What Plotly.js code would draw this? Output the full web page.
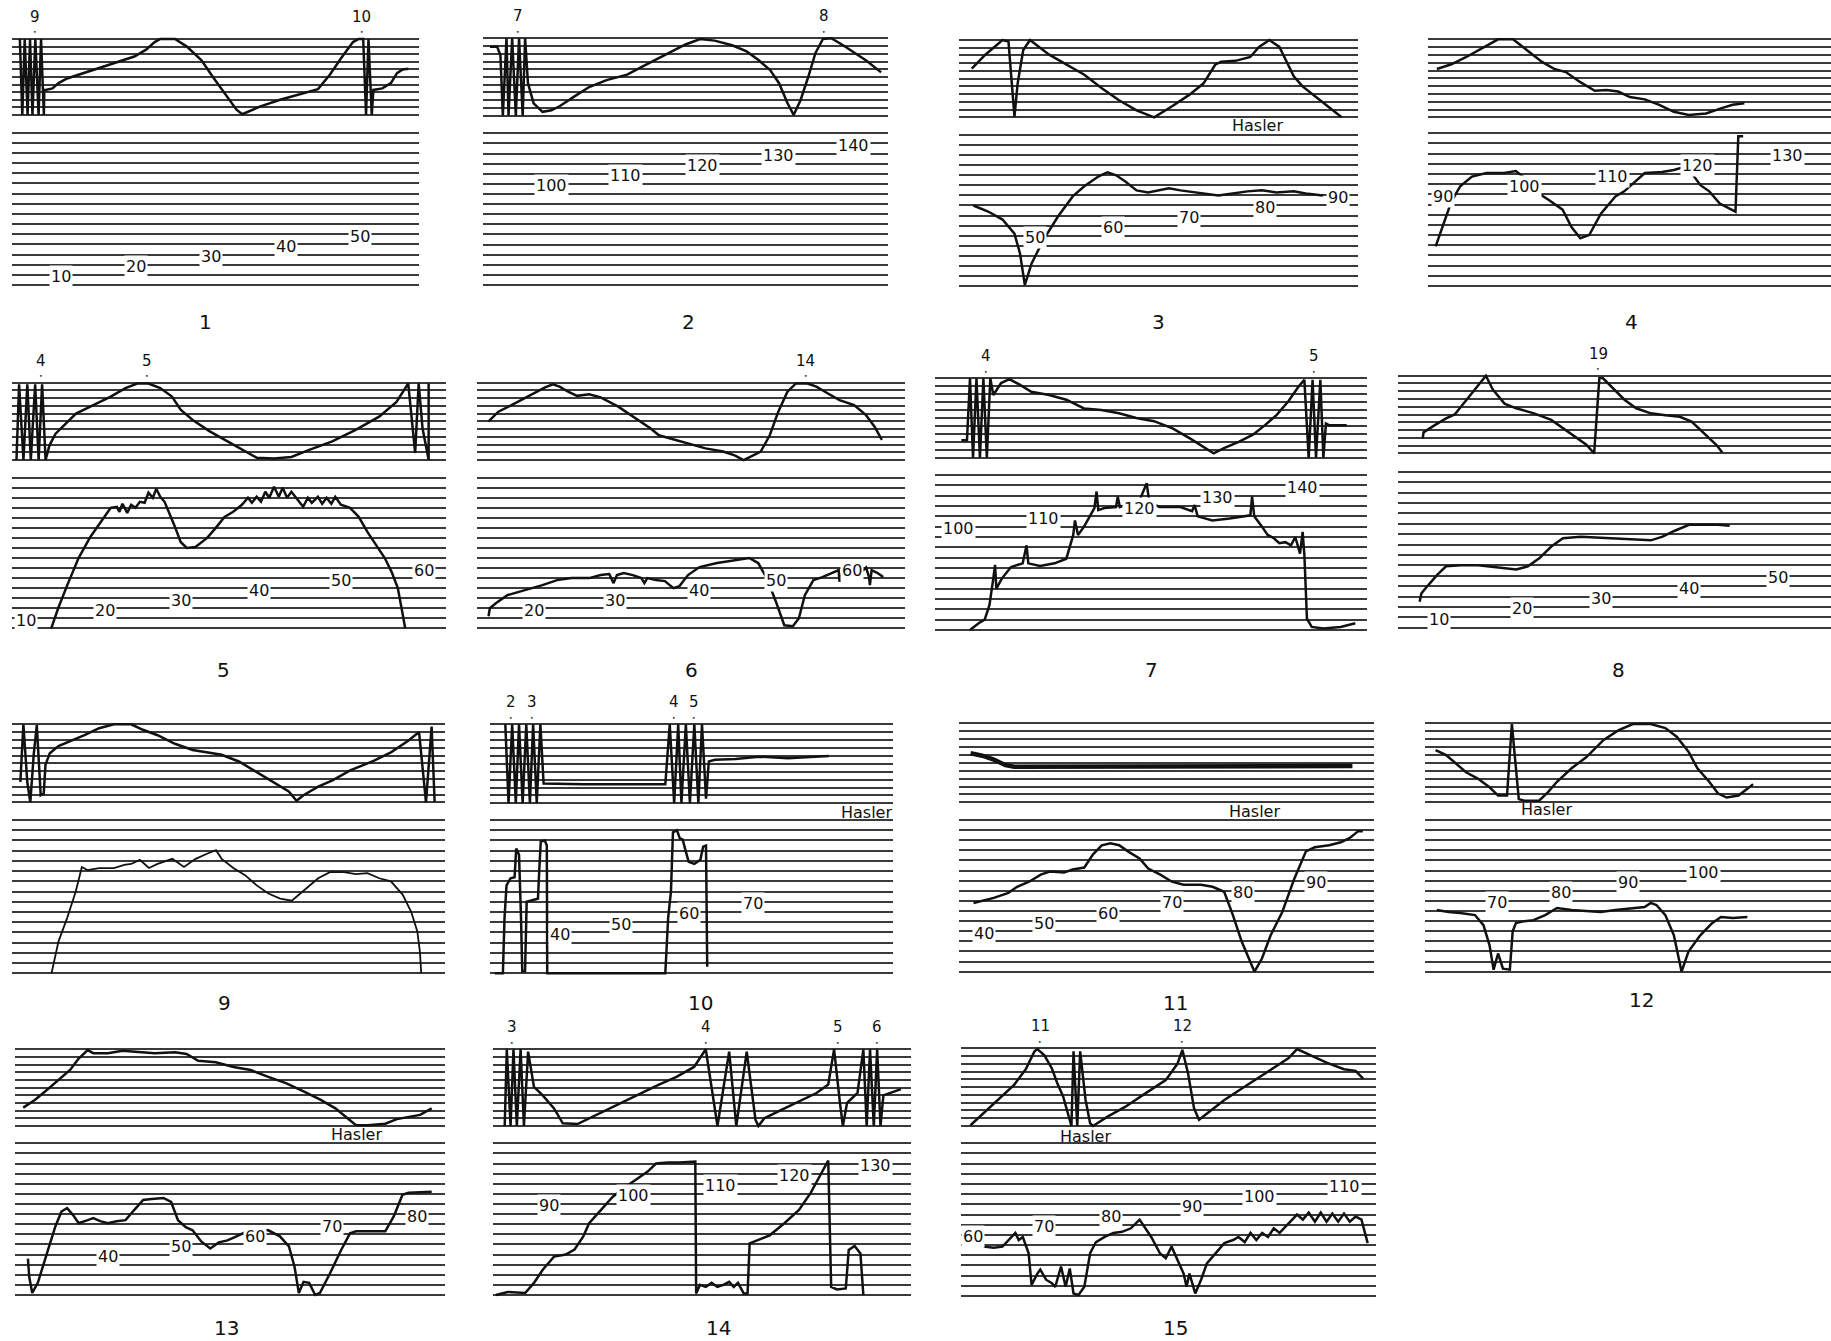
<!DOCTYPE html>
<html>
<head>
<meta charset="utf-8">
<script src="https://cdn.plot.ly/plotly-3.0.1.min.js"></script>
<style>html,body{margin:0;padding:0;background:#fff;}</style>
</head>
<body>
<div id="chart" style="width:1831px;height:1341px;"></div>
<script>
// ===== DATA: x = position along strip (0-100), y = line number (upper 0-10, lower 0-15) =====
const up1X = [2.0,2.6,3.2,3.9,4.5,5.1,5.8,6.6,7.2,7.9,8.0,8.3,10,11.5,13.6,18.6,25.8,30.1,33,35.1,36.5,40.1,43,46.6,49.4,52.3,55.2,56.6,58,60.9,65.9,71.6,75.2,78.1,80.9,83.8,85.2,86.3,87.0,87.6,88.4,88.8,91,93.1,94.6,96,97.4];
const up1Y = [10,0,10,0,10,0,10,0,10,0,3.3,3.3,3.5,4.2,4.8,5.7,7.0,7.7,8.6,9.6,10,10,9.0,7.2,5.0,2.9,0.7,0.1,0.4,1.1,2.0,2.8,3.4,5.3,7.5,9.6,10,10,0,10,0,3.3,3.5,4.2,5.5,6.0,6.1];
const lo1X = [], lo1Y = [];
const lab1Text = ['10','20','30','40','50'], lab1X = [12.2,30.4,49,67.3,85.5], lab1Line = [1,2,3,4,5];
const mark1Text = ['9','10'], mark1X = [5.7,86];

const up2X = [1.7,3.5,4.3,4.9,5.8,6.3,7.2,8.1,8.9,9.8,10.4,11.1,12.5,14.7,16.9,19,22.6,26.2,30.5,35.6,39.2,45,50,53.6,57.2,61.5,65.1,68,70.9,73.1,75.2,76.7,78.4,80.3,82.1,83.9,86,88.9,91.8,94.7,98.3];
const up2Y = [8.9,8.9,7.8,0,10,0,10,0,10,0,10,4.2,1.6,0.5,0.7,1.25,2.5,3.7,4.6,5.3,6.3,7.9,9.2,9.9,9.7,9.1,8.3,7.2,5.9,4.2,1.6,0.1,2.0,5,8.1,9.9,10,9.1,8.1,7.1,5.6];
const lo2X = [], lo2Y = [];
const lab2Text = ['100','110','120','130','140'], lab2X = [16.9,35.2,54.3,73,91.4], lab2Line = [10,11,12,13,14];
const mark2Text = ['7','8'], mark2X = [8.6,84.3];

const up3X = [3.2,6.6,10.9,12.4,13.9,14.7,16.1,17.8,22.6,27,31.4,35.8,40.1,44.5,48.9,53.3,57.7,61.3,64.2,65.7,69.3,73,75.2,77.8,80.3,83.9,86.1,89.8,93,95.9];
const up3Y = [6.3,8.1,10,9.8,0.1,4.4,8.7,10,8.1,6.8,5.5,3.75,2.2,0.9,0,1.4,2.9,4.4,6.8,7.2,7.3,7.8,9.1,10,9.1,5.3,4.0,2.5,1.2,0];
const lo3X = [3.6,7.3,10.9,13.9,15.3,16.5,18.2,21.2,24.8,28.5,31.4,35,37.2,39.4,41.6,44.5,47.4,50.4,52.6,55.5,59.1,65,68.6,72.3,75.9,79.6,83.9,86.9,91.2];
const lo3Y = [8.0,7.4,6.6,5.2,3.2,0.1,2.25,4.6,6.9,8.9,9.9,10.9,11.3,11,10.4,9.5,9.3,9.5,9.7,9.5,9.3,9.0,9.2,9.4,9.5,9.3,9.4,9.2,9.0];
const lab3Text = ['50','60','70','80','90'], lab3X = [19,38.7,57.7,76.6,94.9], lab3Line = [5,6,7,8,9];
const mark3Text = [], mark3X = [];

const up4X = [2.2,5.8,9.4,13.8,17.4,21.1,24.7,28.3,31.3,34.2,37.8,41.4,44.3,47.2,50.1,53.8,57.4,61,64.7,69,72.7,75.6,78.5];
const up4Y = [6.2,6.8,7.7,9.0,10,10,8.6,7.1,6.2,5.8,4.5,3.4,3.5,3.3,2.6,2.3,1.6,0.7,0.3,0.5,1.15,1.6,1.8];
const lo4X = [1.9,3.6,5.8,8,10.9,14.5,18.9,21.8,24,26.2,29.8,33.4,35.6,37.8,40,42.9,46.5,48.7,50.9,53.8,58.1,61,63.7,65.4,67.6,69.8,72.4,76.3,77,78.2];
const lo4Y = [3.9,5.8,8.3,9.8,10.75,11.1,11.1,11.3,10.6,9.4,8.5,7.5,5.8,4.7,5.0,7.1,8.8,9.3,10.1,11.1,11.2,11.4,11.7,11.1,9.9,9.3,8.1,7.3,14.7,14.7];
const lab4Text = ['90','100','110','120','130'], lab4X = [3.6,24,45.8,66.9,89.1], lab4Line = [9,10,11,12,13];
const mark4Text = [], mark4X = [];

const up5X = [1.1,1.7,2.7,3.6,4.4,5.4,6.2,7,7.8,8.7,10.1,12.1,14.8,18.8,22.8,26.2,28.9,31.5,34.2,36.9,38.9,41.6,45.6,49.7,53.7,56.4,60.4,64.4,68.5,73.8,79.2,84.6,88.6,91.3,92.9,93.7,94.6,96,96];
const up5Y = [0,9.8,0,9.8,0,9.8,0,9.8,0,1.9,3.4,4.5,6.0,7.1,8.2,9.3,9.9,9.9,9.3,8.2,6.5,5.2,3.7,2.4,1.1,0.3,0.2,0.4,1.3,2.4,3.9,5.6,7.5,9.9,0.9,9.9,4.1,0,9.9];
const lo5X = [9.1,10.7,12.8,15.4,18.1,20.8,22.8,24.2,24.8,25.5,26.6,27.5,28.5,29.5,30.6,31.5,32.5,33.3,34.2,35.2,36.2,37.6,38.9,40.3,42.3,45,47,49,51,53,54.4,55.3,56.4,57.4,58.4,59.3,60.4,61.5,62.4,63.4,64.4,65.8,67.1,68.2,69.1,70.5,71.5,72.5,73.6,74.5,75.8,77.9,79.9,81.9,83.9,85.9,87.5,88.9,89.9,90.6];
const lo5Y = [0,2,4.3,7,9.1,10.8,12,12.1,11.6,12.4,11.5,12.3,12,12.6,12.5,13.5,13,13.9,13.1,12.6,11.6,10.1,8.6,8.0,8.1,9.0,10,11.1,11.6,12.3,13,12.5,13.1,12.6,13.6,13,14.1,13.1,14,13,13.6,12.8,12.1,13,12.5,13.1,12.4,13,12.4,13.1,12.3,12,11.1,9.6,8.3,7,5.6,4,1.7,0];
const lab5Text = ['10','20','30','40','50','60'], lab5X = [3.4,21.5,38.9,57,75.8,94.9], lab5Line = [1,2,3,4,5,6];
const mark5Text = ['4','5'], mark5X = [6.7,31.1];

const up6X = [2.7,5,8.4,12.5,15.9,17.7,19.3,21.4,23.4,26.2,28.9,33,37.1,40.5,42.5,45.2,49.3,53.4,57.5,60.2,62.3,64.3,66.3,68.4,70.4,72.5,74.5,77.2,79.3,82,84.7,88.1,90.9,92.9,94.6];
const up6Y = [5.0,6.25,7.2,8.4,9.4,9.8,9.5,8.8,8.3,8.5,8.1,6.9,5.4,4.1,3.2,2.8,2.2,1.5,1.1,0.6,0,0.6,1.1,3.2,6.25,8.8,9.9,9.9,9.5,8.6,7.75,7.1,5.8,4.3,2.6];
const lo6X = [2.7,3,4.4,7.1,11.2,15.3,18.7,22.1,26.2,28.9,30.9,31.9,32.7,34.3,36.4,38.4,39.1,39.8,41.8,43.9,45.9,47.3,49.3,52,56.1,60.2,63.6,65.7,67.7,69.8,71.8,73.8,75.2,76.6,78.6,80.7,82.7,84.5,84.7,85.4,87.5,89.5,90.9,91.6,91.8,92.2,93.6,94.9];
const lo6Y = [1.2,2,2.5,3.3,3.8,4.3,4.8,5,5,5.3,5.4,4.5,5.3,5.5,5.3,5,4.5,5,4.8,4.7,4,4.2,5.3,6.1,6.5,6.8,7.0,6.5,5,2.7,0.3,0.2,1.0,3.3,4.8,5.1,5.5,5.8,4.65,5.6,5.9,5.5,6.05,5.1,4.3,5.8,5.5,5.1];
const lab6Text = ['20','30','40','50','60'], lab6X = [13.2,32.3,51.8,69.8,87.5], lab6Line = [2,3,4,5,6];
const mark6Text = ['14'], mark6X = [76.8];

const up7X = [6.1,7.4,8.1,8.8,9.6,10.4,11.2,12,12.8,13.5,15.3,17.2,19.6,22.3,26.4,30.4,34.5,38.5,42.6,46.6,50.7,55,59.1,62.2,64.5,66.9,70.3,73.6,76.4,79.1,81.8,84.2,85.5,86.5,87.4,88.2,89.2,89.9,90.5,91.2,95.3];
const up7Y = [2.2,2.2,10,0,10,0,10,0,10,7.9,9.4,9.9,9.2,8.3,7.9,7.3,6.2,6.0,5.6,5,4.6,3.7,2.4,1.4,0.55,1.2,2.0,2.9,4.1,5.4,7.1,9.0,9.8,0,9.8,0,9.8,0,4.3,4.1,4.1];
const lo7X = [8.1,10.1,11.5,12.6,13.5,13.9,14.2,15.5,17.6,20.3,21.2,21.6,24.3,27.7,30.4,32,32.4,33.1,34.5,35.8,36.9,37.4,37.8,39.2,41.9,42.3,42.8,45.3,47.2,49,49.6,52,56.8,59.5,60.1,60.8,64.2,68.2,73,73.4,73.9,75.7,77,78.4,79.7,81.1,82.4,83.4,84.5,85.1,85.5,86.1,87.2,89.9,93.9,97.3];
const lo7Y = [0,0.65,1.0,2.4,5,6.3,4,5,6.1,6.45,8.2,6.45,6.2,6.45,6.9,9.2,10.6,9.2,10,11,11.8,13.4,11.6,11.8,11.9,12.9,11.9,12.3,12.4,14.2,12.4,11.9,11.9,11.5,12.1,11,10.6,10.8,11.1,12.9,11,10,9.2,8.9,8.4,8.5,8.2,9,7.4,9.5,7.3,1.1,0.3,0.15,0.3,0.65];
const lab7Text = ['100','110','120','130','140'], lab7X = [5.4,25,47.3,65.5,85.1], lab7Line = [10,11,12,13,14];
const mark7Text = ['4','5'], mark7X = [11.8,87.8];

const up8X = [5.7,5.9,8.4,11.1,13.1,15.1,17.6,20.3,21.9,24.6,27.3,31.4,35.4,38.1,40.8,43.5,45.3,46.5,47.3,49.6,52.3,55,58.4,61.8,65.1,67.8,69.9,71.9,73.5,74.9];
const up8Y = [1.9,2.7,3.6,4.5,5.0,6.4,8.2,10,8.2,6.4,5.8,5.15,4.3,3.2,2.1,1.1,0,9.7,9.7,8.4,6.9,5.8,5.15,4.9,4.7,4.1,3.0,1.9,1.1,0.1];
const lo8X = [5,5.4,7,9.1,11.1,14.5,18.5,22.6,27.3,30,32.7,35.4,38.1,42.2,47.6,53,58.4,61.1,63.8,67.2,70.5,73.9,76.6];
const lo8Y = [2.5,3.3,4.1,5.1,5.9,6.0,6.0,5.8,5.6,5.9,6.7,7.8,8.6,8.75,8.65,8.5,8.4,8.75,9.3,9.9,9.9,9.9,9.8];
const lab8Text = ['10','20','30','40','50'], lab8X = [9.5,28.6,46.9,67.2,87.8], lab8Line = [1,2,3,4,5];
const mark8Text = ['19'], mark8X = [46.2];

const up9X = [2.0,2.7,3.6,4.3,5.1,5.8,6.7,7.4,7.8,8.8,10.8,13.5,16.8,20.2,23.6,27.6,30.3,33.7,37.7,41.8,48.5,52.6,56.6,60.6,64,65.8,67.4,70.8,74.1,78.2,83.6,87.6,91.6,94.1,95.7,97,97.7];
const up9Y = [2.6,10,2.6,0,6.2,9.9,0.9,1.1,4.8,6.3,7.2,7.8,8.6,9.5,10,10,9.3,8.6,7.5,6.7,6.1,5.2,3.9,2.6,1.4,0.2,0.9,2.0,2.8,4.1,5.3,6.4,7.9,9.0,0,9.7,0];
const lo9X = [9.2,10.8,12.8,14.8,16.2,17.5,20.2,23.6,26,27.6,29.6,31.7,33.7,37.1,39.8,42.5,45.1,47.2,48.5,51.2,53.9,56.6,59.3,62,64.7,67.4,70.8,73.5,76.8,79.5,82.2,84.9,87.6,90.3,92.3,93.7,94.3,94.6];
const lo9Y = [0,3.1,5.4,8,10.4,10.1,10.3,10.3,10.6,10.7,11.1,10.3,10.7,11.2,10.4,11.2,11.7,12.05,11.2,10.3,9.6,8.6,7.8,7.3,7.1,8.1,9.3,9.9,9.9,9.7,9.8,9.3,9.0,7.7,6.0,4.1,2.1,0];
const lab9Text = [], lab9X = [], lab9Line = [];
const mark9Text = [], mark9X = [];

const up10X = [3.8,4.6,5.5,6.4,7.2,8.1,9,9.9,10.7,11.6,12.5,13.3,23.2,43.5,44.6,45.7,46.7,47.5,48.6,49.6,50.7,51.7,52.6,53.6,54.3,55.8,60.9,66.7,73.9,84.1];
const up10Y = [10,0,10,0,10,0,10,0,10,0,10,2.5,2.4,2.4,10,0,10,0,10,0,10,0,10,0.6,5.3,5.5,5.6,5.9,5.7,6.0];
const lo10X = [1.2,3.2,3.6,4.1,5.1,6.1,6.5,7.2,7.7,8.0,8.7,9.1,10.9,11.9,12.2,12.6,13.6,14.1,14.2,43.5,44.2,44.9,45.4,46.4,47.1,47.8,48.6,49.3,50.7,52.2,52.9,53.6,53.9];
const lo10Y = [0,0,5.4,8.6,9.3,9.4,12.2,11.6,5.4,0.2,0.2,7.0,7.2,7.3,9.9,12.9,13.0,12.5,0,0,5.4,8,13.8,14,13.2,13.1,11.9,10.9,10.7,11.1,12.4,12.5,0.65];
const lab10Text = ['40','50','60','70'], lab10X = [17.4,32.6,49.3,65.2], lab10Line = [4,5,6,7];
const mark10Text = ['2','3','4','5'], mark10X = [5.2,10.4,45.7,50.7];

const up11X = [2.8,5.6,8.4,11.2,13.3,17.6,31.6,54.1,73.7,94.8];
const up11Y = [6.2,5.9,5.4,4.7,4.5,4.5,4.5,4.6,4.6,4.6];
const lo11X = [3.5,6.3,8.4,11.9,14,16.9,19.7,21.9,25.3,27.4,30.2,32.3,34.4,36.5,38.6,40.7,43.5,45.6,48.5,51.3,54.1,58.3,61.1,63.9,66,68.1,70.2,71.2,73,75.1,77.9,80.8,83.6,85.7,89.2,92,94.1,96.2,97.3];
const lo11Y = [6.8,7.1,7.3,7.8,8.4,8.9,9.6,9.9,9.8,10.1,10.3,11.6,12.5,12.7,12.5,11.9,11.2,10.2,9.6,8.9,8.6,8.6,8.4,7.9,5.6,3.0,1.0,0,1.3,3.6,5.9,9.2,11.9,12.3,12.5,12.8,13.2,13.9,13.9];
const lab11Text = ['40','50','60','70','80','90'], lab11X = [6,20.6,35.8,51.3,68.4,86.1], lab11Line = [4,5,6,7,8,9];
const mark11Text = [], mark11X = [];

const up12X = [2.6,5.1,7.2,10.1,13,15.9,18,20.2,20.9,21.4,22.4,23.1,24.5,28.1,30.3,32.5,36.1,39.7,44,47.6,51.2,55.6,59.2,62,64.9,67.1,70,72.2,74.3,77.2,79.4,80.8];
const up12Y = [6.6,6.0,5.1,3.8,3.0,1.9,0.85,0.85,6.2,9.9,4.3,0.4,0.2,0.2,1.3,2.6,4.3,5.7,7.9,9.1,9.9,9.9,9.4,8.3,6.4,4.3,2.6,1.1,0.6,0.85,1.7,2.3];
const lo12X = [2.9,5.8,8.7,12.3,14.4,15.9,16.9,18,19.2,20.9,21.6,22.4,24.5,26.7,29.6,32.5,36.1,39.7,43.3,46.9,51.2,54.1,55.6,57,59.2,61.3,63.2,64.9,67.8,70.7,72.9,75.8,79.4];
const lo12Y = [6.1,5.9,5.8,5.6,4.6,2.6,0.2,1.8,0.3,0.2,4,4.8,5.0,5.1,5.6,6.3,6.1,6.0,5.9,6.1,6.3,6.4,6.8,6.6,5.6,3.6,0,2,3.6,4.8,5.4,5.3,5.4];
const lab12Text = ['70','80','90','100'], lab12X = [17.7,33.6,50.1,68.5], lab12Line = [7,8,9,10];
const mark12Text = [], mark12X = [];

const up13X = [2,4.7,7.5,10.2,12.9,14.9,17,18.3,21.7,25.1,29.2,32.6,37.3,40,42.7,46.8,50.9,54.9,59,63.1,67.2,71.2,74.6,77.3,79.4,82.1,86.2,88.9,91.6,94.3,97];
const up13Y = [2.4,3.4,4.7,6.0,7.3,8.8,9.9,9.5,9.5,9.8,9.6,9.5,9.6,9.4,8.5,8.3,7.7,7.3,6.4,5.6,4.5,3.4,2.3,1.0,0.1,0.1,0.3,0.9,1.2,1.45,2.3];
const lo13X = [3.1,3.4,4.1,5.4,7.5,9.5,10.9,12.2,13.6,14.9,17,18.3,19.9,21.7,23.7,25.8,27.8,29.9,31.9,34.6,36.4,38,39.8,41.4,43.4,45.5,47.5,49.5,51.6,53.6,56.3,59,61.7,63.8,65.1,66.1,67.2,68.5,69.9,71,73.3,76,78,79.4,86.2,88.2,90.2,91.6,97];
const lo13Y = [3.6,1.8,0.2,1.2,4.1,6.8,8.25,8.6,7.9,7.1,7.4,7.6,7.3,7.1,7.3,7.4,8.4,9.4,9.5,9.6,9.2,7.4,6.7,6.4,5.3,4.6,5.2,5.4,5.8,6.2,6.5,6.4,5.8,4.8,2.8,0.2,1.3,1.2,0,0.2,2.1,4.5,6.1,6.3,6.3,7.8,9.9,10.1,10.2];
const lab13Text = ['40','50','60','70','80'], lab13X = [21.7,38.7,56,73.9,93.6], lab13Line = [4,5,6,7,8];
const mark13Text = [], mark13X = [];

const up14X = [2.8,3.3,4.2,4.9,5.7,6.6,7.4,8.4,9.8,11.9,14.6,16.7,20.2,23,27.2,31.4,35.6,39.7,43.9,48.1,50.9,53.7,56.5,58.2,60.7,62.8,63.5,64.9,69,73.2,77.4,80.2,81.6,83,83.7,84.7,87.2,88.6,89.4,90.2,91.1,91.9,92.7,93.4,94.8,97.6];
const up14Y = [0,10,0,10,0,10,0,9.7,5.1,4.0,2.3,0.35,0.26,1.0,2.1,3.2,4.3,5.4,6.4,7.7,10,0,9.7,0,9.7,0.8,0,1.0,2.1,3.2,4.3,5.4,10,3.0,0,3.0,4.3,10,0,10,0,10,0,4.0,4.3,4.8];
const lo14X = [0.7,3.5,7.7,9.8,11.9,14.6,17.4,19.5,21.6,23,25.8,28.6,31.4,34.2,37,39,41.8,44.6,48.4,48.6,49.5,50.9,52.3,53.7,55.1,56.5,57.6,58.6,60,60.9,61.4,63.5,66.2,69.7,73.2,76,78.1,80.2,80.9,82.3,84.4,85.1,86.5,87.9,88.6];
const lo14Y = [0,0.3,0.2,1.2,2.5,3.8,4.0,4.5,5.8,7.1,8.4,9.7,10.6,11.4,12.2,13,13.1,13.1,13.2,0.15,1.0,0.8,1.2,0.8,1.0,1.3,0.8,1.2,0.15,0.15,5.1,5.45,5.9,7.1,8.4,10.1,11.7,13.3,0.8,0.55,0.65,4.45,4.85,4.1,0];
const lab14Text = ['90','100','110','120','130'], lab14X = [13.5,33.5,54.4,72.1,91.4], lab14Line = [9,10,11,12,13];
const mark14Text = ['3','4','5','6'], mark14X = [4.6,50.9,82.6,91.8];

const up15X = [2.4,5.9,9.4,12.9,15.7,17.8,18.5,20.2,22,23.3,24.7,25.8,26.7,27.2,28.1,28.8,30.1,31.2,31.9,35.4,39.6,44.5,49.4,52.2,53.4,54.8,56.2,57.4,59.3,63.5,69.1,74.7,78.9,81,84.6,88.1,92.3,95.1,96.9];
const up15Y = [0.1,1.85,3.6,5.3,7.3,9.6,9.9,9.1,7.4,5.5,3.8,1.6,0,9.6,0,9.6,3.35,0.35,0,1.2,2.45,4.2,5.9,8.0,9.8,6.7,2.3,0.8,1.6,3.35,5.3,7.2,8.7,9.9,9.0,8.15,7.3,7.1,6.1];
const lo15X = [5.6,8,10.1,12.2,13.2,14,15,16.4,17.1,18.5,19.2,20.6,22,22.8,24.2,25.3,26.3,27.2,28.4,29.8,31.2,32.6,34.7,36.8,38.9,41,43.1,44.5,45.9,48,49.4,50.8,52.2,53.7,54.4,55.1,56.5,57.9,59.3,61.4,63.5,65.6,66.9,68.4,69.8,71.2,72.6,74,75.4,76.8,78.2,79.6,81,82.4,83.8,85.3,86.7,88.1,89.5,90.9,92.3,93.7,95.1,96.5,97.5,98];
const lo15Y = [4.85,4.75,4.85,5.7,6.2,5.5,5.8,4.2,1.1,2.2,2.6,1.6,1.25,0.9,2.9,0.9,2.7,0.25,0.1,0.9,4.2,5.3,5.8,6.2,6.3,6.65,7.5,6.65,5.8,4.2,3.7,4.85,3.5,2.2,0.9,2.2,0.25,1.6,3.2,4.2,5.2,5.5,5.8,5.3,6.2,5.5,6.2,5.8,6.65,6.2,6.8,7.3,8.0,7.5,8.2,7.3,8.2,7.3,8.1,7.3,8.1,7.3,7.8,7.5,5.8,5.2];
const lab15Text = ['60','70','80','90','100','110'], lab15X = [3.1,20.2,36.1,55.8,71.9,92.3], lab15Line = [6,7,8,9,10,11];
const mark15Text = ['11','12'], mark15X = [19.2,53.4];

const panelNames = ['1','2','3','4','5','6','7','8','9','10','11','12','13','14','15'];
const panelNameX = [47.6,50.7,50.1,50.6,48.7,50,50,50.9,49.2,52.2,52.2,53.4,49.3,54,51.8];
const haslerPanel = [3,10,11,12,13,15];
const haslerX = [74.9,93.5,71.3,30,79.6,30.1];

// ===== LAYOUT (pixel boxes: x0, x1, upperTop, upperBottom, lowerTop, lowerBottom) =====
const W = 1831, H = 1341, PAD = 0.3;
const GEOM = [
  [11.7,419,39,115,132.7,285],[483,888,38.3,115.7,133.3,285],[959,1358,40,117.3,135,286],[1428,1831,39.3,117.3,133.3,286],
  [11.7,446,382.7,460,477.7,628.3],[477,905,382.7,460,477.7,628.3],[935,1367,378.3,457.7,475,630],[1398,1831,375.7,453.3,471.7,627.7],
  [11.7,444.6,724.3,802.3,820,973.3],[490,893,724.3,803.3,820,973.3],[959,1374,723.3,802.3,820,971.7],[1425,1831,723.3,802.3,820,971.7],
  [14.6,444.6,1049.3,1126,1143.3,1295],[493,911,1049.3,1126,1143.3,1295],[960.5,1376,1048.3,1126,1143.3,1296]
];
const NAME_PY = [322,322,322,322,670,670,670,670,1003,1003,1003,1000,1328,1328,1328];
const HASLER_PY = {3:126,10:812,11:811,12:809,13:1134,15:1136};
const FONT = "'DejaVu Sans',Verdana,sans-serif";
const GRID = '#3a3a3a', INK = '#111111';

const panels = [
  [up1X,up1Y,lo1X,lo1Y,lab1Text,lab1X,lab1Line,mark1Text,mark1X],
  [up2X,up2Y,lo2X,lo2Y,lab2Text,lab2X,lab2Line,mark2Text,mark2X],
  [up3X,up3Y,lo3X,lo3Y,lab3Text,lab3X,lab3Line,mark3Text,mark3X],
  [up4X,up4Y,lo4X,lo4Y,lab4Text,lab4X,lab4Line,mark4Text,mark4X],
  [up5X,up5Y,lo5X,lo5Y,lab5Text,lab5X,lab5Line,mark5Text,mark5X],
  [up6X,up6Y,lo6X,lo6Y,lab6Text,lab6X,lab6Line,mark6Text,mark6X],
  [up7X,up7Y,lo7X,lo7Y,lab7Text,lab7X,lab7Line,mark7Text,mark7X],
  [up8X,up8Y,lo8X,lo8Y,lab8Text,lab8X,lab8Line,mark8Text,mark8X],
  [up9X,up9Y,lo9X,lo9Y,lab9Text,lab9X,lab9Line,mark9Text,mark9X],
  [up10X,up10Y,lo10X,lo10Y,lab10Text,lab10X,lab10Line,mark10Text,mark10X],
  [up11X,up11Y,lo11X,lo11Y,lab11Text,lab11X,lab11Line,mark11Text,mark11X],
  [up12X,up12Y,lo12X,lo12Y,lab12Text,lab12X,lab12Line,mark12Text,mark12X],
  [up13X,up13Y,lo13X,lo13Y,lab13Text,lab13X,lab13Line,mark13Text,mark13X],
  [up14X,up14Y,lo14X,lo14Y,lab14Text,lab14X,lab14Line,mark14Text,mark14X],
  [up15X,up15Y,lo15X,lo15Y,lab15Text,lab15X,lab15Line,mark15Text,mark15X]
];

const ax = (l,k) => k === 1 ? l : l + k;
const traces = [];
const layout = {
  width: W, height: H, margin: {l:0,r:0,t:0,b:0,pad:0},
  paper_bgcolor: '#ffffff', plot_bgcolor: 'rgba(0,0,0,0)',
  showlegend: false, annotations: [], hovermode: false
};

panels.forEach((p, i) => {
  const g = GEOM[i];
  const ku = 2*i+1, kl = 2*i+2;
  [[ku, g[2], g[3], 10], [kl, g[4], g[5], 15]].forEach(([k, top, bot, n]) => {
    const s = (bot - top) / n;
    const yTop = top - PAD*s, yBot = bot + PAD*s;
    layout[ax('xaxis',k)] = {domain:[g[0]/W, Math.min(1, g[1]/W)], range:[0,100], visible:false, fixedrange:true, anchor:ax('y',k)};
    layout[ax('yaxis',k)] = {domain:[1 - yBot/H, 1 - yTop/H], range:[-PAD, n+PAD], anchor:ax('x',k),
      tick0:0, dtick:1, showgrid:true, gridcolor:GRID, gridwidth:2, zeroline:false,
      showticklabels:false, ticks:'', showline:false, fixedrange:true};
  });
  traces.push({x:p[0], y:p[1], xaxis:ax('x',ku), yaxis:ax('y',ku), type:'scatter', mode:'lines',
    line:{color:INK, width: (i === 10 ? 4.5 : 2.5)}, hoverinfo:'skip'});
  if (p[2].length) traces.push({x:p[2], y:p[3], xaxis:ax('x',kl), yaxis:ax('y',kl), type:'scatter', mode:'lines',
    line:{color:INK, width:(i === 8 ? 1.8 : 2.5)}, hoverinfo:'skip'});
  p[4].forEach((t, j) => layout.annotations.push({xref:ax('x',kl), yref:ax('y',kl), x:p[5][j], y:p[6][j],
    text:t, showarrow:false, bgcolor:'#ffffff', borderpad:1, yshift:-2, xanchor:'center', yanchor:'middle',
    font:{family:FONT, size:16, color:INK}}));
  p[7].forEach((t, j) => {
    layout.annotations.push({xref:ax('x',ku), yref:ax('y',ku), x:p[8][j], y:10, yshift:22, text:t, borderpad:0,
      xanchor:'center', yanchor:'middle', showarrow:false, font:{family:FONT, size:15, color:INK}});
    layout.annotations.push({xref:ax('x',ku), yref:ax('y',ku), x:p[8][j], y:10, yshift:7, text:'•', borderpad:0,
      xanchor:'center', yanchor:'middle', showarrow:false, font:{family:FONT, size:6, color:INK}});
  });
  layout.annotations.push({xref:ax('x',kl), yref:'paper', x:panelNameX[i], y:1 - NAME_PY[i]/H,
    xanchor:'center', yanchor:'middle', text:panelNames[i], showarrow:false, font:{family:FONT, size:20, color:INK}});
});

haslerPanel.forEach((pn, j) => {
  const ku = 2*(pn-1)+1;
  layout.annotations.push({xref:ax('x',ku), yref:'paper', x:haslerX[j], y:1 - HASLER_PY[pn]/H,
    xanchor:'center', yanchor:'middle', text:'Hasler', showarrow:false, font:{family:FONT, size:16, color:INK}});
});

Plotly.newPlot('chart', traces, layout, {staticPlot:true, displayModeBar:false});
</script>
</body>
</html>
